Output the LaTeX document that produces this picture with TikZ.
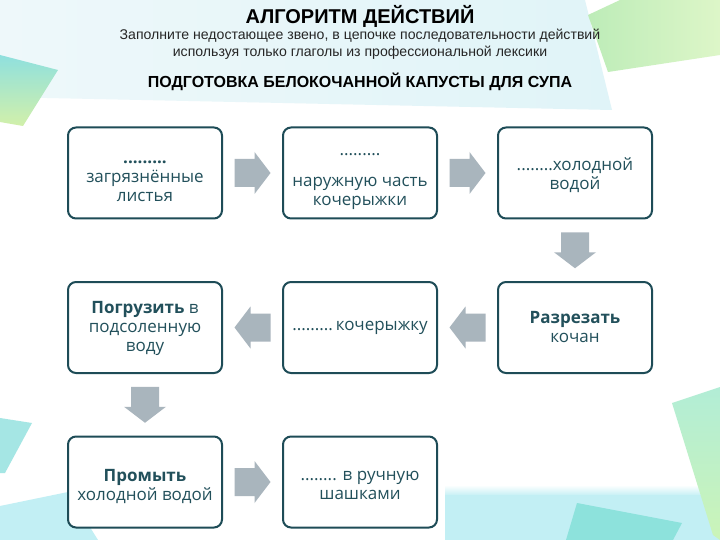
\documentclass[tikz,border=0pt]{standalone}
\usepackage{fontspec}
\setmainfont{Open Sans}
\newfontfamily\arialf{Liberation Sans}
\usetikzlibrary{calc}
\definecolor{boxline}{HTML}{1E4C57}
\definecolor{boxtext}{HTML}{22505B}
\definecolor{arrowgray}{HTML}{A9B5BD}
\definecolor{bandA}{HTML}{EEF8FA}
\definecolor{bandB}{HTML}{E0F4F8}
\definecolor{cyanA}{HTML}{8FE0DE}
\definecolor{greenA}{HTML}{D2F0AA}
\definecolor{greenB}{HTML}{BDECB8}
\definecolor{greenC}{HTML}{DDF6C8}
\definecolor{cyanband}{HTML}{C2EFF4}
\definecolor{tealpatch}{HTML}{8DE2DC}
\definecolor{greenD}{HTML}{B2EDD6}
\definecolor{greenE}{HTML}{CBF4B8}
\begin{document}
\begin{tikzpicture}[x=1pt,y=-1pt,
  stepbox/.style={draw=boxline, line width=2pt, rounded corners=8pt, fill=white,
    minimum width=154pt, minimum height=91pt, inner sep=0pt},
  boxlabel/.style={align=center, text=boxtext, inner sep=0pt,
    font=\fontsize{17}{19}\selectfont},
  flowarrow/.style={fill=arrowgray, draw=none},
  titletext/.style={inner sep=0pt, text=black}]
\useasboundingbox (0,0) rectangle (720,540);
% background
\fill[white] (0,0) rectangle (720,540);
\shade[left color=bandA, right color=bandB] (0,0) -- (585,0) -- (612,110) -- (0,97) -- cycle;
\shade[top color=cyanA, bottom color=greenA] (0,55) -- (58,70) -- (23,126) -- (0,122) -- cycle;
\shade[left color=greenB, right color=greenC] (588,15) -- (620,0) -- (720,0) -- (720,55) -- (608,72) -- cycle;
\shade[top color=white, bottom color=cyanband] (445,485) rectangle (720,496);
\fill[cyanband] (445,495) rectangle (720,540);
\fill[tealpatch] (577,503) -- (682,523) -- (673,540) -- (566,540) -- cycle;
\shade[top color=greenD, bottom color=greenE] (672,403) -- (720,387) -- (720,540) -- (713,535) -- cycle;
\fill[cyanA!80] (0,418) -- (32,423) -- (5,473) -- (0,473) -- cycle;
\fill[cyanband] (0,506) -- (68,492) -- (98,540) -- (0,540) -- cycle;
% titles
\node[titletext, font=\arialf\bfseries\fontsize{20}{23}\selectfont] (title) at (360,16) {АЛГОРИТМ ДЕЙСТВИЙ};
\node[titletext, font=\arialf\fontsize{14.1}{16}\selectfont, text=black!85] (sub1) at (360,36) {Заполните недостающее звено, в цепочке последовательности действий};
\node[titletext, font=\arialf\fontsize{14.1}{16}\selectfont, text=black!85] (sub2) at (360,53) {используя только глаголы из профессиональной лексики};
\node[titletext, font=\arialf\bfseries\fontsize{16}{18}\selectfont] (head) at (360,82) {ПОДГОТОВКА БЕЛОКОЧАННОЙ КАПУСТЫ ДЛЯ СУПА};
% boxes
\node[stepbox] (b1) at (145,173) {};
\node[stepbox] (b2) at (360,173) {};
\node[stepbox] (b3) at (575,173) {};
\node[stepbox] (b4) at (575,327.5) {};
\node[stepbox] (b5) at (360,327.5) {};
\node[stepbox] (b6) at (145,327.5) {};
\node[stepbox] (b7) at (145,482) {};
\node[stepbox] (b8) at (360,482) {};
% box texts
\node[boxlabel] (t1) at ($(b1)+(0,8)$) {\textbf{.........}\\загрязнённые\\листья};
\node[boxlabel] (t2) at ($(b2)+(0,9)$) {.........\\[12pt]наружную часть\\кочерыжки};
\node[boxlabel] (t3) at ($(b3)+(0,2)$) {........холодной\\водой};
\node[boxlabel] (t4) at ($(b4)+(0,0)$) {\textbf{Разрезать}\\кочан};
\node[boxlabel] (t5) at ($(b5)+(0,0)$) {.........\,кочерыжку};
\node[boxlabel] (t6) at ($(b6)+(0,1)$) {\textbf{Погрузить} в\\подсоленную\\воду};
\node[boxlabel] (t7) at ($(b7)+(0,5)$) {\textbf{Промыть}\\холодной водой};
\node[boxlabel] (t8) at ($(b8)+(0,3)$) {........ в ручную\\шашками};
% arrows between boxes
\foreach \s/\e/\ang in {b1.east/b2.west/0, b2.east/b3.west/0, b3.south/b4.north/270,
    b4.west/b5.east/180, b5.west/b6.east/180, b6.south/b7.north/270, b7.east/b8.west/0}{
  \fill[flowarrow, shift={($(\s)!0.5!(\e)$)}, rotate=\ang]
    (-18,-14) -- (2,-14) -- (2,-21) -- (18,0) -- (2,21) -- (2,14) -- (-18,14) -- cycle;
}
\end{tikzpicture}
\end{document}
